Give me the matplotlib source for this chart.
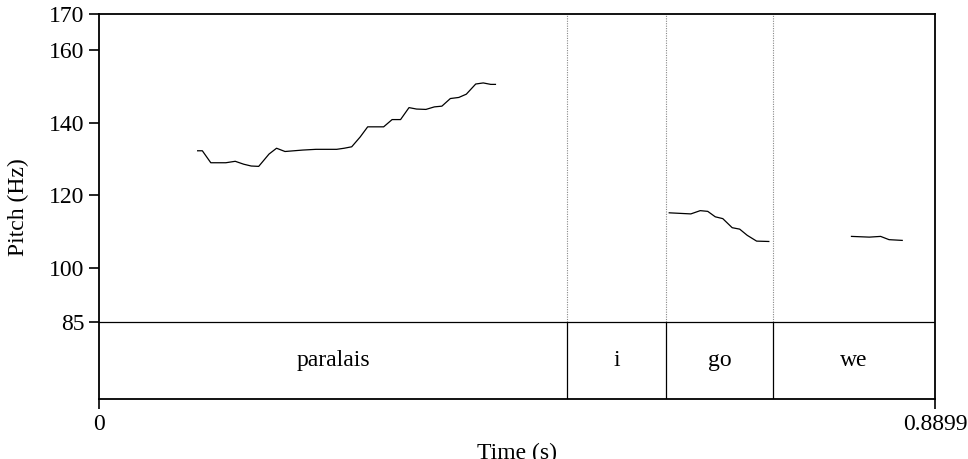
import numpy as np
import matplotlib.pyplot as plt

plt.rcParams['font.family'] = ['Liberation Serif', 'DejaVu Serif']

# pitch track (s, Hz), one list per voiced stretch
t1 = [0.105, 0.110, 0.119, 0.135, 0.145, 0.154, 0.162, 0.170, 0.181, 0.189, 0.198,
      0.217, 0.231, 0.253, 0.261, 0.269, 0.278, 0.286, 0.303, 0.312, 0.321, 0.330,
      0.338, 0.348, 0.357, 0.365, 0.374, 0.383, 0.391, 0.401, 0.409, 0.417, 0.422]
f1 = [132.3, 132.3, 129.0, 129.0, 129.4, 128.6, 128.1, 128.0, 131.4, 133.0, 132.1,
      132.5, 132.7, 132.7, 133.0, 133.4, 136.1, 138.9, 138.9, 140.9, 140.9, 144.2,
      143.8, 143.7, 144.4, 144.6, 146.7, 147.0, 147.9, 150.7, 151.0, 150.6, 150.6]
t2 = [0.607, 0.630, 0.640, 0.648, 0.656, 0.664, 0.674, 0.682, 0.690, 0.700, 0.713]
f2 = [115.2, 114.9, 115.8, 115.6, 114.1, 113.6, 111.1, 110.7, 109.0, 107.4, 107.3]
t3 = [0.801, 0.820, 0.832, 0.841, 0.855]
f3 = [108.7, 108.5, 108.7, 107.8, 107.6]

# word tier
bounds = [0.0, 0.4985, 0.6039, 0.7178, 0.8899]
words = ['paralais', 'i', 'go', 'we']

tmax = 0.8899
fmin, fmax = 85, 170
tier_bottom = 63.8

fig = plt.figure(figsize=(9.68, 4.59), dpi=100)
ax = fig.add_axes([99/968, 1 - 399.3/459, 836/968, 385.3/459])

for t, f in [(t1, f1), (t2, f2), (t3, f3)]:
    ax.plot(t, f, color='black', lw=0.9)

# tier box and boundaries
ax.axhline(fmin, color='black', lw=0.9)
for b in bounds[1:-1]:
    ax.plot([b, b], [fmin, fmax], color='#888888', lw=0.8, ls=(0, (1, 1.2)))
    ax.plot([b, b], [tier_bottom, fmin], color='black', lw=0.9)
for i, w in enumerate(words):
    ax.text((bounds[i] + bounds[i + 1]) / 2, (fmin + tier_bottom) / 2, w,
            ha='center', va='center', fontsize=17)

ax.set_xlim(0, tmax)
ax.set_ylim(tier_bottom, fmax)
ax.set_yticks([85, 100, 120, 140, 160, 170])
ax.set_xticks([0, tmax])
ax.set_xticklabels(['0', '0.8899'])
ax.tick_params(direction='out', length=7.5, width=1.2, labelsize=17, pad=3)
for s in ax.spines.values():
    s.set_linewidth(1.3)
ax.set_ylabel('Pitch (Hz)', fontsize=17, labelpad=14)
ax.set_xlabel('Time (s)', fontsize=17, labelpad=6)

fig.savefig('out.png', dpi=100)
